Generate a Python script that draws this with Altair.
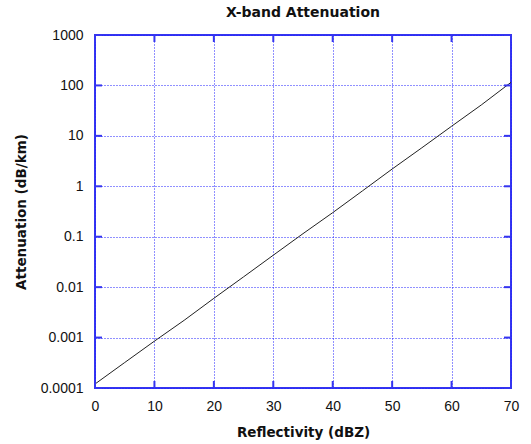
import altair as alt
import pandas as pd

# Reflectivity (dBZ) and the corresponding X-band specific attenuation (dB/km)
reflectivity = [0, 5, 10, 15, 20, 25, 30, 35, 40, 45, 50, 55, 60, 65, 70]
attenuation = [0.00012, 0.00032, 0.00085, 0.0022, 0.006, 0.016, 0.043,
               0.115, 0.30, 0.81, 2.2, 5.8, 15.5, 41, 115]

x_ticks = [0, 10, 20, 30, 40, 50, 60, 70]
y_ticks = [0.0001, 0.001, 0.01, 0.1, 1, 10, 100, 1000]

BLUE = "#3535f0"
GRID = "#2020ff"
W, H = 416, 353
TICK = 7

df = pd.DataFrame({"dbz": reflectivity, "att": attenuation})
xt = pd.DataFrame({"v": x_ticks})
yt = pd.DataFrame({"v": y_ticks})

xscale = alt.Scale(domain=[0, 70], nice=False, zero=False)
yscale = alt.Scale(type="log", domain=[0.0001, 1000], nice=False)

line = alt.Chart(df).mark_line(color="#222222", strokeWidth=1).encode(
    x=alt.X("dbz:Q", scale=xscale,
            axis=alt.Axis(values=x_ticks, title="Reflectivity (dBZ)", format="d")),
    y=alt.Y("att:Q", scale=yscale,
            axis=alt.Axis(values=y_ticks, title="Attenuation (dB/km)", format="~g")),
)

# inward tick marks along the four edges of the frame
rule_style = dict(color=BLUE, strokeWidth=2)
bottom = alt.Chart(xt).mark_rule(**rule_style).encode(
    x=alt.X("v:Q", scale=xscale), y=alt.value(H), y2=alt.value(H - TICK))
top = alt.Chart(xt).mark_rule(**rule_style).encode(
    x=alt.X("v:Q", scale=xscale), y=alt.value(0), y2=alt.value(TICK))
left = alt.Chart(yt).mark_rule(**rule_style).encode(
    y=alt.Y("v:Q", scale=yscale), x=alt.value(0), x2=alt.value(TICK))
right = alt.Chart(yt).mark_rule(**rule_style).encode(
    y=alt.Y("v:Q", scale=yscale), x=alt.value(W), x2=alt.value(W - TICK))

chart = (
    alt.layer(line, bottom, top, left, right)
    .properties(
        width=W,
        height=H,
        title=alt.TitleParams("X-band Attenuation", font="DejaVu Sans",
                              fontSize=14, fontWeight="bold", color="#111111",
                              offset=8, anchor="middle"),
        autosize=alt.AutoSizeParams(type="none"),
        padding={"left": 95, "top": 35, "right": 20, "bottom": 56},
        background="white",
    )
    .configure_view(stroke=BLUE, strokeWidth=2)
    .configure_axis(
        domain=False,
        ticks=False,
        grid=True,
        gridColor=GRID,
        gridDash=[1, 2],
        gridWidth=1,
        gridOpacity=1,
        labelFlush=False,
        labelFont="Liberation Sans",
        labelFontSize=14,
        labelColor="#111111",
        titleFont="DejaVu Sans",
        titleFontSize=13.5,
        titleFontWeight="bold",
        titleColor="#111111",
    )
    .configure_axisX(labelPadding=11, titlePadding=12)
    .configure_axisY(labelPadding=12, titlePadding=12)
)

chart.save("out.html", embed_options={"renderer": "svg", "actions": False})
